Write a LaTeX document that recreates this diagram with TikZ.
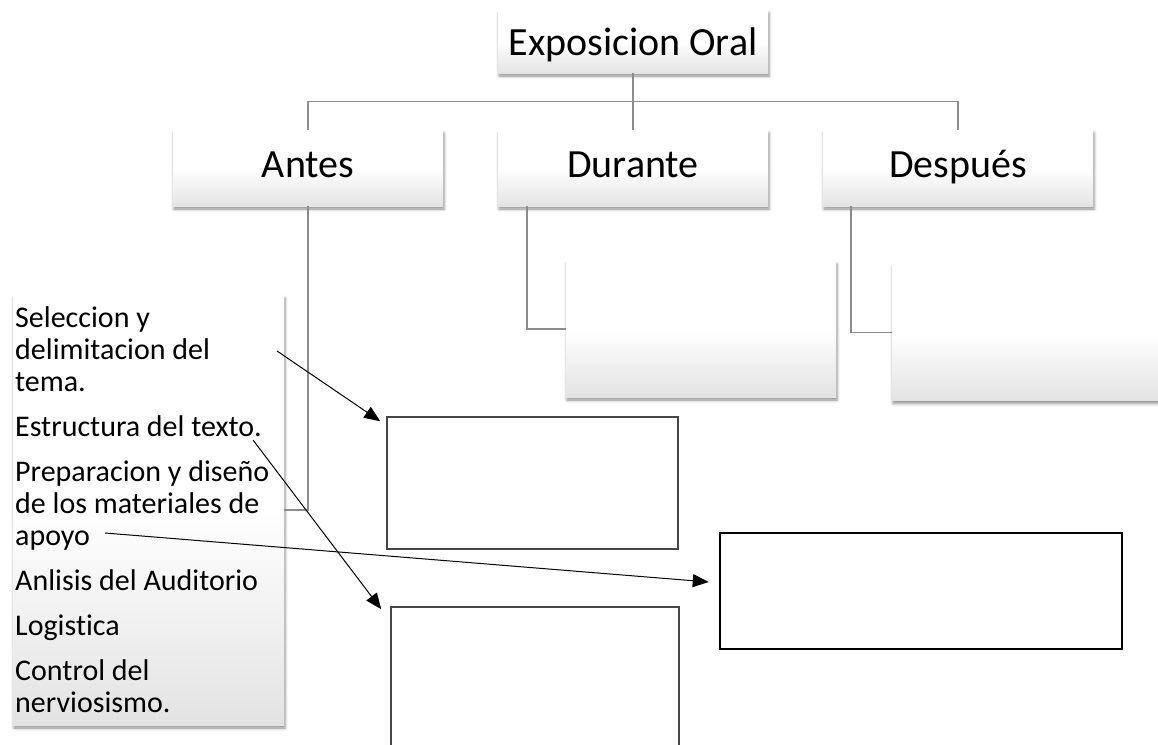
\documentclass[tikz,border=0pt]{standalone}
\usepackage{fontspec}
\setmainfont{Carlito}[Ligatures=NoCommon]
\usetikzlibrary{positioning,shadows,shadows.blur,calc,arrows.meta}

\begin{document}
\begin{tikzpicture}[
    x=1pt, y=-1pt,
    node distance=55pt,
    caja/.style={
        rectangle,
        draw=none,
        top color=white,
        bottom color=black!11,
        middle color=white,
        minimum width=270pt,
        minimum height=76pt,
        inner sep=0pt,
        outer sep=0pt,
        font=\fontsize{40}{44}\selectfont,
        text height=27pt,
        text depth=9pt,
        blur shadow={shadow xshift=1pt, shadow yshift=-3pt, shadow blur radius=3pt, shadow opacity=45}
    },
    marco/.style={
        rectangle,
        draw=black!72,
        line width=1.5pt,
        fill=white,
        inner sep=0pt
    },
    linea/.style={draw=black!45, line width=1.8pt},
    flecha/.style={-{Triangle[length=16pt,width=13pt]}, line width=1pt},
    item/.style={anchor=base west, inner sep=0pt, font=\fontsize{30}{32}\selectfont}
]
    \clip (0,0) rectangle (1158,744);

    % Jerarquia
    \node[caja, minimum height=63pt, text depth=0pt] (expo) at (633,41.5) {Exposicion Oral};
    \node[caja] (durante) [below=57pt of expo] {Durante};
    \node[caja] (antes) [left=of durante] {Antes};
    \node[caja] (despues) [right=of durante] {Después};

    % Cajas hijas
    \node[caja, minimum height=136pt] (durhijo) at (701,329) {};
    \node[caja, minimum height=136pt] (desphijo) at (1027,332.5) {};
    \node[caja, minimum width=271pt, minimum height=430pt] (lista) at (148.5,510) {};

    % Conectores
    \draw[linea] (expo.south) -- (durante.north);
    \draw[linea] (antes.north) |- ($(expo.south)!.5!(durante.north)$) -| (despues.north);
    \draw[linea] (antes.south) |- (lista.east);
    \draw[linea] ([xshift=29pt]durante.south west) |- (durhijo.west);
    \draw[linea] ([xshift=28pt]despues.south west) |- (desphijo.west);

    % Lista de pasos
    \foreach \txt/\yy [count=\i] in {Seleccion y/327, delimitacion del/359, tema./391,
        Estructura del texto./436, Preparacion y diseño/481, de los materiales de/513,
        apoyo/545, Anlisis del Auditorio/590, Logistica/635, Control del/680, nerviosismo./712}
        \node[item] (l\i) at (15,\yy) {\txt};

    % Cajas vacias
    \node[marco, minimum width=291pt, minimum height=132pt] (vacio1) at (532.5,483) {};
    \node[marco, minimum width=288pt, minimum height=153pt] (vacio2) at (535,683.5) {};
    \node[marco, draw=black, line width=2.5pt, minimum width=402pt, minimum height=116pt] (vacio3) at (921,591) {};

    % Flechas
    \coordinate (s1) at (277,351);
    \coordinate (s2) at (253,440);
    \coordinate (s3) at (105,533);
    \draw[flecha] (s1) -- ([xshift=-6pt,yshift=-5pt]vacio1.north west);
    \draw[flecha] (s2) -- ([xshift=-9pt,yshift=-3pt]vacio2.north west);
    \draw[flecha] (s3) -- ([xshift=-10pt,yshift=9pt]vacio3.west);
\end{tikzpicture}
\end{document}
